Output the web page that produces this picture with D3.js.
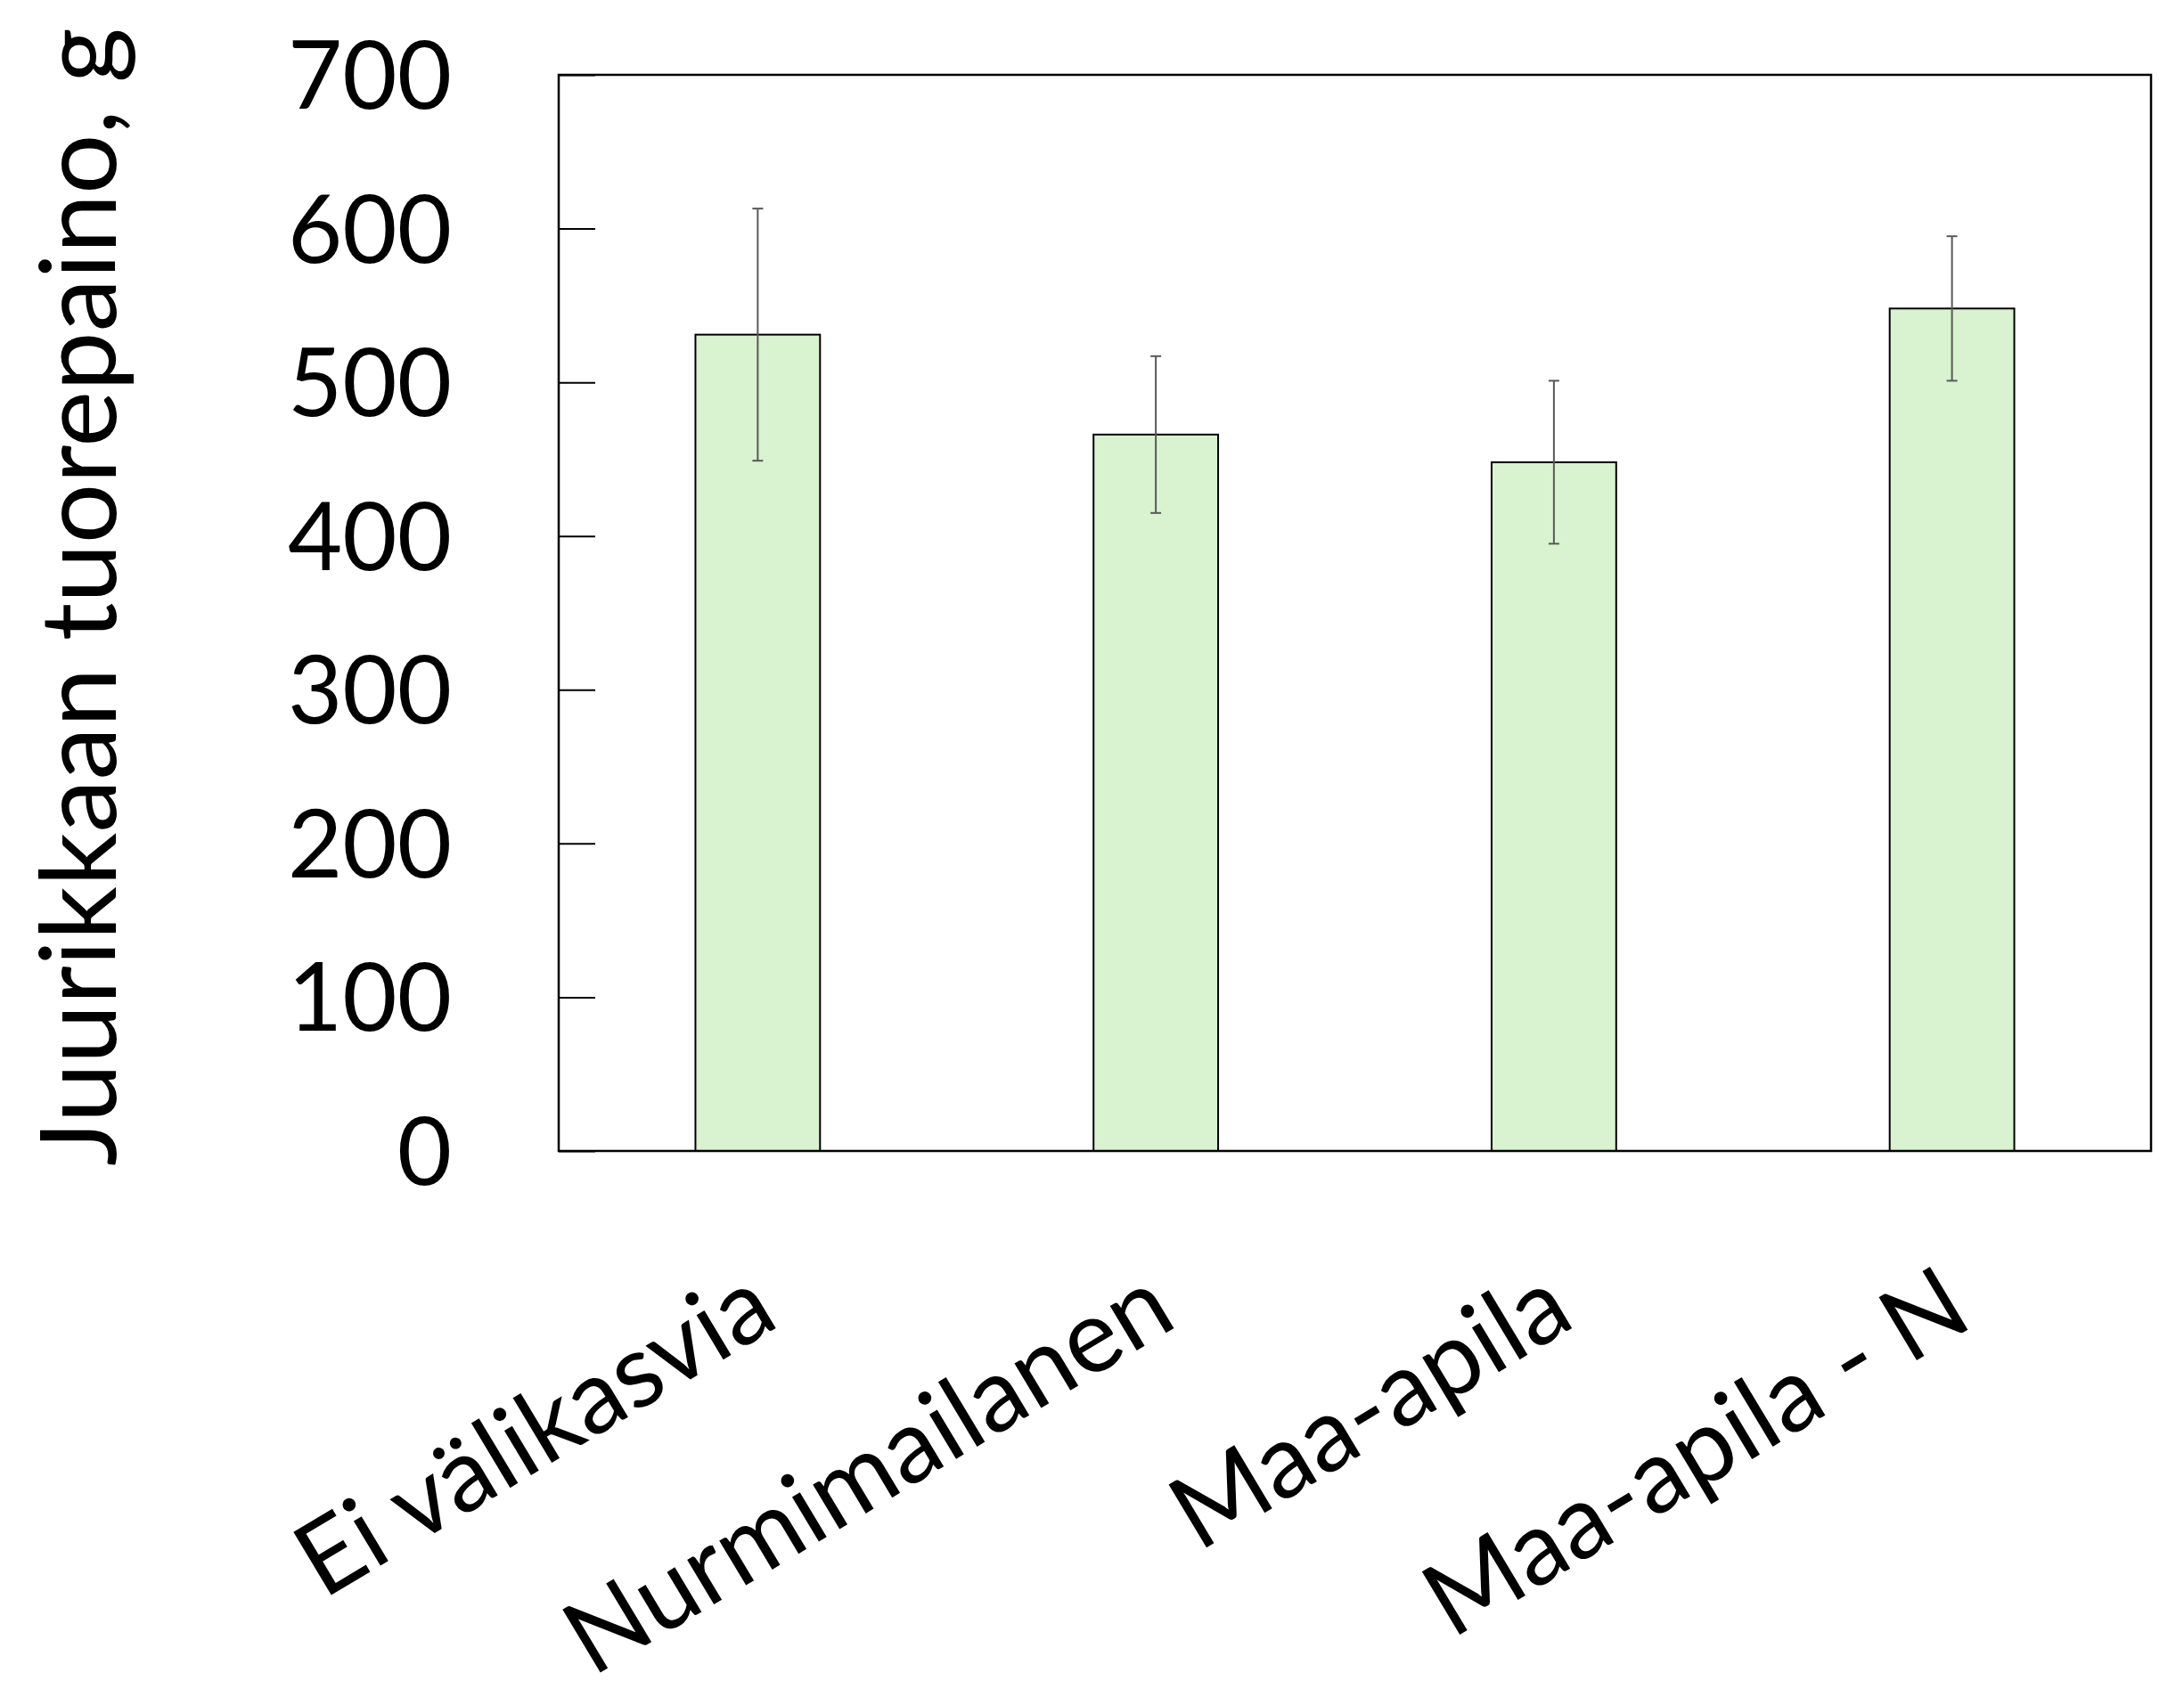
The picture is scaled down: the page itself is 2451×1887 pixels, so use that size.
<!DOCTYPE html>
<html>
<head>
<meta charset="utf-8">
<script src="https://cdn.jsdelivr.net/npm/d3@7"></script>
<style>
  html, body { margin: 0; padding: 0; background: #ffffff; }
  svg { display: block; }
  text { font-family: Lato, "Open Sans", sans-serif; fill: #000; }
</style>
</head>
<body>
<script>
// ---- data ----
const categories = ["Ei välikasvia", "Nurmimailanen", "Maa-apila", "Maa-apila - N"];
const values = [531, 466, 448, 548];
const errors = [82, 51, 53, 47];
const yTicks = [0, 100, 200, 300, 400, 500, 600, 700];
const yTitle = "Juurikkaan tuorepaino, g";

// ---- layout ----
const W = 2451, H = 1887;
const plot = { left: 627, right: 2414, top: 84, bottom: 1292 };

const svg = d3.select("body").append("svg").attr("width", W).attr("height", H);

const x = d3.scaleBand().domain(categories).range([plot.left, plot.right]).paddingInner(0.687).paddingOuter(0.3435);
const y = d3.scaleLinear().domain([0, 700]).range([plot.bottom, plot.top]);

// helper: fit font size so text length matches a target width
function fitSize(sample, target, base) {
  const t = svg.append("text").style("font-size", base + "px").text(sample);
  const len = t.node().getComputedTextLength();
  t.remove();
  return base * target / len;
}
const tickSize = fitSize("700", 184, 100);
const labelSize = fitSize("Ei välikasvia", 600, 100);
const titleSize = fitSize(yTitle, 1278, 100);

// bars
svg.append("g").selectAll("rect").data(categories).join("rect")
  .attr("x", d => x(d))
  .attr("y", (d, i) => y(values[i]))
  .attr("width", x.bandwidth())
  .attr("height", (d, i) => y(0) - y(values[i]))
  .attr("fill", "#d9f2d0")
  .attr("stroke", "#000")
  .attr("stroke-width", 2);

// error bars
const eg = svg.append("g").attr("stroke", "#595959").attr("stroke-width", 2).attr("fill", "none");
categories.forEach((c, i) => {
  const cx = x(c) + x.bandwidth() / 2;
  const hi = y(values[i] + errors[i]), lo = y(values[i] - errors[i]);
  eg.append("line").attr("x1", cx).attr("x2", cx).attr("y1", hi).attr("y2", lo);
  eg.append("line").attr("x1", cx - 6).attr("x2", cx + 6).attr("y1", hi).attr("y2", hi);
  eg.append("line").attr("x1", cx - 6).attr("x2", cx + 6).attr("y1", lo).attr("y2", lo);
});

// frame
svg.append("rect")
  .attr("x", plot.left).attr("y", plot.top)
  .attr("width", plot.right - plot.left).attr("height", plot.bottom - plot.top)
  .attr("fill", "none").attr("stroke", "#000").attr("stroke-width", 2.5);

// y axis: ticks inside, labels at left
const yAxis = d3.axisRight(y).tickValues(yTicks).tickSize(41).tickFormat("");
const ya = svg.append("g").attr("transform", `translate(${plot.left},0)`).call(yAxis);
ya.select(".domain").remove();
ya.selectAll(".tick line").attr("stroke", "#000").attr("stroke-width", 2);

svg.append("g").selectAll("text").data(yTicks).join("text")
  .attr("x", 507)
  .attr("y", d => y(d))
  .attr("dy", "0.36em")
  .attr("text-anchor", "end")
  .style("font-size", tickSize + "px")
  .text(d => d);

// x labels rotated
svg.append("g").selectAll("text").data(categories).join("text")
  .attr("transform", d => `translate(${x(d) + x.bandwidth() / 2 - 16},${plot.bottom + 124}) rotate(-31)`)
  .attr("dy", "0.72em")
  .attr("text-anchor", "end")
  .style("font-size", labelSize + "px")
  .text(d => d);

// y title
svg.append("text")
  .attr("transform", `translate(130,670) rotate(-90)`)
  .attr("text-anchor", "middle")
  .style("font-size", titleSize + "px")
  .text(yTitle);
</script>
</body>
</html>
